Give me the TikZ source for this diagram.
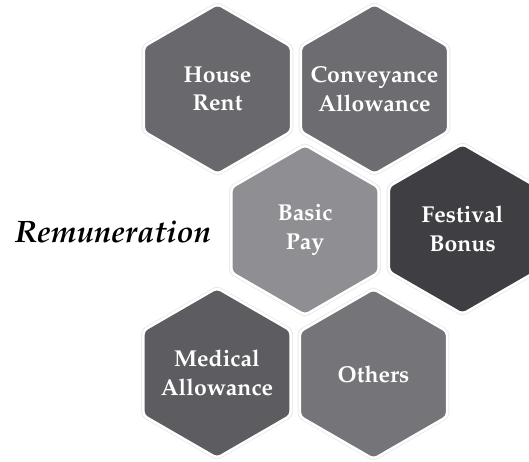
\documentclass[tikz,border=0pt]{standalone}
\usepackage[T1]{fontenc}
\usepackage{mathpazo}
\usetikzlibrary{shapes.geometric,shadows}
\definecolor{hrcol}{RGB}{104,104,109}
\definecolor{cacol}{RGB}{108,108,113}
\definecolor{bpcol}{RGB}{142,142,147}
\definecolor{fbcol}{RGB}{62,62,67}
\definecolor{macol}{RGB}{92,92,97}
\definecolor{otcol}{RGB}{116,116,121}
\tikzset{
  hexbox/.style={regular polygon, regular polygon sides=6, shape border rotate=30,
    minimum size=170pt, inner sep=0pt, rounded corners=4pt,
    draw=white, line width=2.5pt,
    general shadow={fill=black!25, opacity=.3, shadow scale=1.03}},
  hextext/.style={text=white, align=center, inner sep=0pt,
    font=\fontsize{23}{28.5}\selectfont\bfseries},
  titlebox/.style={font=\fontsize{31}{36}\selectfont\bfseries\itshape, text=black, inner sep=0pt}
}
\begin{document}
\begin{tikzpicture}[x=1pt,y=-1pt]
\useasboundingbox (0,0) rectangle (529,462);
\node[hexbox, fill=hrcol] (hr) at (217.5,89) {};
\node[hexbox, fill=cacol] (ca) at (374.5,89) {};
\node[hexbox, fill=bpcol] (bp) at (305,230) {};
\node[hexbox, fill=fbcol] (fb) at (462.5,229) {};
\node[hexbox, fill=macol] (ma) at (217,373) {};
\node[hexbox, fill=otcol] (ot) at (373.5,374) {};
\node[hextext] (hrt) at (hr.center) {House\\Rent};
\node[hextext] (cat) at (ca.center) {Conveyance\\Allowance};
\node[hextext] (bpt) at (bp.center) {Basic\\Pay};
\node[hextext] (fbt) at (fb.center) {Festival\\Bonus};
\node[hextext] (mat) at (ma.center) {Medical\\Allowance};
\node[hextext] (ott) at (ot.center) {Others};
\node[titlebox] (rem) at (113,232) {Remuneration};
\end{tikzpicture}
\end{document}
